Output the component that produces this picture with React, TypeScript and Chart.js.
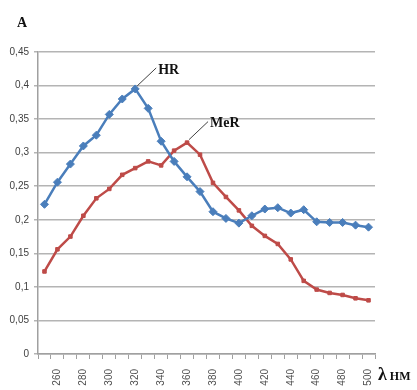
import React, { useEffect, useRef } from "react";
import { Chart, registerables } from "chart.js";

Chart.register(...registerables);

const wavelengths = [
  "250", "260", "270", "280", "290", "300", "310", "320", "330", "340",
  "350", "360", "370", "380", "390", "400", "410", "420", "430", "440",
  "450", "460", "470", "480", "490", "500",
];
const hrValues = [
  0.223, 0.256, 0.283, 0.31, 0.326, 0.357, 0.38, 0.395, 0.366, 0.317,
  0.287, 0.264, 0.242, 0.212, 0.202, 0.195, 0.206, 0.216, 0.218, 0.21,
  0.215, 0.197, 0.196, 0.196, 0.192, 0.189,
];
const merValues = [
  0.123, 0.156, 0.175, 0.206, 0.232, 0.246, 0.267, 0.277, 0.287, 0.281,
  0.303, 0.315, 0.297, 0.255, 0.234, 0.214, 0.191, 0.176, 0.164, 0.141,
  0.109, 0.096, 0.091, 0.088, 0.083, 0.08,
];
const seriesNames = ["HR", "MeR"];
const labelIndices = [7, 11];
const yMin = 0;
const yMax = 0.45;
const yStep = 0.05;

const annotationPlugin = {
  id: "seriesLabels",
  afterDatasetsDraw(chart: any) {
    const ctx = chart.ctx;
    ctx.save();
    ctx.strokeStyle = "#404040";
    ctx.lineWidth = 1;
    ctx.fillStyle = "#111";
    ctx.font = "bold 14px 'Liberation Serif'";
    ctx.textBaseline = "middle";
    ctx.textAlign = "left";
    seriesNames.forEach((name, i) => {
      const meta = chart.getDatasetMeta(i);
      const pt = meta.data[labelIndices[i]];
      if (!pt) return;
      const x = pt.x;
      const y = pt.y;
      ctx.beginPath();
      ctx.moveTo(x + 2, y - 3);
      ctx.lineTo(x + 21, y - 21);
      ctx.stroke();
      ctx.fillText(name, x + 23, y - 19);
    });
    ctx.restore();
  },
};

export default function App() {
  const canvasRef = useRef<HTMLCanvasElement>(null);

  useEffect(() => {
    const canvas = canvasRef.current;
    if (!canvas) return;
    const chart = new Chart(canvas, {
      type: "line",
      data: {
        labels: wavelengths,
        datasets: [
          {
            label: seriesNames[0],
            data: hrValues,
            borderColor: "#4a7ebb",
            backgroundColor: "#4a7ebb",
            borderWidth: 2.5,
            pointStyle: "rectRot",
            pointRadius: 4,
            pointBorderWidth: 1,
            tension: 0,
          },
          {
            label: seriesNames[1],
            data: merValues,
            borderColor: "#be4b48",
            backgroundColor: "#be4b48",
            borderWidth: 2.5,
            pointStyle: "rect",
            pointRadius: 2.5,
            pointBorderWidth: 1,
            tension: 0,
          },
        ],
      },
      options: {
        animation: false,
        responsive: false,
        layout: { padding: { left: 0, right: 42, top: 52, bottom: 0 } },
        plugins: {
          legend: { display: false },
          tooltip: { enabled: false },
        },
        scales: {
          x: {
            type: "category",
            offset: true,
            grid: {
              display: true,
              drawOnChartArea: false,
              drawTicks: true,
              tickLength: 5,
              color: "#a0a0a0",
              offset: true,
            },
            border: { display: true, color: "#a0a0a0", width: 1.5 },
            ticks: {
              autoSkip: false,
              minRotation: 90,
              maxRotation: 90,
              padding: 10,
              color: "#505050",
              font: { family: "'Liberation Sans'", size: 10 },
              callback: (_v: any, index: number) =>
                index % 2 === 1 ? wavelengths[index] : "",
            },
            afterFit: (scale: any) => {
              scale.height = 36;
            },
          },
          y: {
            min: yMin,
            max: yMax,
            grid: {
              color: "#b4b4b4",
              lineWidth: 1.5,
              tickLength: 4,
            },
            border: { display: true, color: "#a0a0a0", width: 1.5 },
            ticks: {
              stepSize: yStep,
              padding: 5,
              color: "#404040",
              font: { family: "'Liberation Sans'", size: 10 },
              callback: (v: any) =>
                Number(Number(v).toFixed(2)).toString().replace(".", ","),
            },
            afterFit: (scale: any) => {
              scale.width = 38;
            },
          },
        },
      },
      plugins: [annotationPlugin],
    } as any);
    return () => chart.destroy();
  }, []);

  return (
    <div
      style={{
        position: "fixed",
        left: 0,
        top: 0,
        width: 417,
        height: 390,
        background: "#fff",
      }}
    >
      <canvas ref={canvasRef} width={417} height={390} style={{ display: "block" }} />
      <div
        style={{
          position: "absolute",
          left: 17,
          top: 15,
          fontFamily: "'Liberation Serif'",
          fontWeight: "bold",
          fontSize: 14,
          color: "#111",
        }}
      >
        A
      </div>
      <div
        style={{
          position: "absolute",
          left: 378,
          top: 364,
          fontFamily: "'Liberation Serif'",
          fontWeight: "bold",
          color: "#111",
          whiteSpace: "nowrap",
        }}
      >
        <span style={{ fontSize: 18 }}>λ</span>
        <span style={{ fontSize: 12, marginLeft: 3 }}>НМ</span>
      </div>
    </div>
  );
}
